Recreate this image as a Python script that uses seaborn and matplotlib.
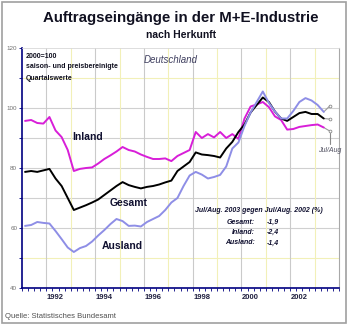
import numpy as np
import pandas as pd
import matplotlib
matplotlib.use("Agg")
import matplotlib.pyplot as plt
import seaborn as sns
from matplotlib.patches import Rectangle

sns.set_theme(style="white")
plt.rcParams['font.family'] = ['Liberation Sans', 'DejaVu Sans']

# ---- data (quarterly, 1991 Q1 .. 2003 Jul/Aug) ----
inland = [95.7, 96.0, 95.0, 94.8, 97.0, 92.5, 90.3, 86.0, 79.0, 79.7,
          80.0, 80.2, 81.5, 83.0, 84.2, 85.5, 87.0, 86.0, 85.5, 84.5,
          83.7, 83.0, 83.0, 83.2, 82.3, 84.0, 85.0, 86.0, 92.0, 90.0,
          91.3, 90.2, 92.0, 90.0, 91.3, 89.7, 96.5, 100.5, 101.2, 102.0,
          100.3, 97.2, 96.0, 92.8, 93.0, 93.7, 94.0, 94.3, 94.5, 93.5, 92.3]
gesamt = [78.7, 79.0, 78.7, 79.2, 79.7, 76.5, 74.0, 70.0, 66.0, 66.8,
          67.6, 68.5, 69.5, 71.0, 72.5, 74.0, 75.3, 74.3, 73.7, 73.2,
          73.7, 74.0, 74.5, 75.2, 75.8, 79.0, 80.5, 82.0, 85.2, 84.5,
          84.3, 84.0, 83.5, 86.5, 88.7, 92.0, 94.5, 98.5, 101.0, 103.5,
          102.0, 98.8, 96.5, 95.7, 97.0, 98.3, 98.7, 98.0, 98.0, 96.5, 96.3]
ausland = [60.7, 61.0, 62.0, 61.7, 61.5, 59.0, 56.3, 53.5, 52.0, 53.3,
           54.0, 55.5, 57.5, 59.3, 61.3, 63.0, 62.3, 60.7, 60.8, 60.5,
           62.0, 63.0, 64.0, 66.0, 68.5, 70.0, 74.0, 77.5, 78.7, 77.8,
           76.5, 77.0, 77.7, 80.5, 86.5, 88.5, 94.0, 98.5, 102.0, 105.5,
           101.7, 98.8, 96.5, 96.5, 99.0, 102.0, 103.3, 102.5, 101.0, 98.7, 100.7]
start_year = 1991
year_labels = ["1992", "1994", "1996", "1998", "2000", "2002"]
change_names = ["Gesamt:", "Inland:", "Ausland:"]
change_values = ["-1,9", "-2,4", "-1,4"]

n = len(gesamt)
q = np.arange(n)
df = pd.DataFrame({"q": np.concatenate([q, q, q]),
                   "wert": inland + gesamt + ausland,
                   "serie": ["Inland"] * n + ["Gesamt"] * n + ["Ausland"] * n})
main = df[df["q"] < n - 1]
tail = df[df["q"] >= n - 2]

W, H = 350, 327
fig = plt.figure(figsize=(W / 100, H / 100), dpi=100)
ax = fig.add_axes([22 / W, 1 - 288 / H, (339 - 22) / W, (288 - 48) / H])

colors = {"Inland": "#d81ed8", "Gesamt": "#000000", "Ausland": "#8e8ee6"}

# grid
for v in [50, 60, 70, 80, 90, 100, 110]:
    c = "#f2f0b8" if v in (50, 110) else "#d0d0d0"
    ax.axhline(v, color=c, lw=0.8, zorder=0)
n_years = 13
for k in range(1, n_years):
    yr = start_year + k
    c = "#cacaca" if yr % 2 == 0 else "#f2f0b8"
    ax.axvline(4 * k - 0.5, color=c, lw=0.8, zorder=0)

sns.lineplot(data=main, x="q", y="wert", hue="serie", palette=colors,
             linewidth=1.4, legend=False, ax=ax, zorder=3)
for s in ["Ausland", "Gesamt", "Inland"]:
    d = tail[tail["serie"] == s]
    sns.lineplot(data=d, x="q", y="wert", color="#9a9a9a", linewidth=0.8,
                 legend=False, ax=ax, zorder=2)
    last = d[d["q"] == n - 1]
    sns.scatterplot(data=last, x="q", y="wert", color="white", edgecolor="#8a8a8a",
                    s=4, linewidth=0.6, legend=False, ax=ax, zorder=4)
ax.plot([n - 1, n - 1], [inland[-1] - 0.7, inland[-1] - 4.3], color="#8a8a8a", lw=0.8)
ax.text(n - 1, inland[-1] - 6.5, "Jul/Aug", fontsize=5, style="italic",
        color="#505060", ha="center", va="center")

ax.set_xlim(-0.5, 4 * n_years - 0.5)
ax.set_ylim(40, 120)
ax.set_xlabel("")
ax.set_ylabel("")

ax.set_yticks([40, 60, 80, 100, 120])
ax.set_yticklabels(["40", "60", "80", "100", "120"])
ax.set_yticks(np.arange(40, 121, 10), minor=True)
ax.tick_params(axis="y", which="both", direction="out", length=2, width=0.6,
               colors="#000080", labelsize=4.5, labelcolor="#707070", pad=1.5, left=True)

ax.set_xticks(np.arange(-0.5, 4 * n_years, 1), minor=True)
ax.set_xticks([4 * (int(l) - start_year) + 1 for l in year_labels])
ax.set_xticklabels(year_labels, fontweight="bold", fontsize=5.5, color="#202040")
ax.tick_params(axis="x", which="major", length=0, pad=4)
ax.tick_params(axis="x", which="minor", direction="out", length=2.5, width=0.6,
               colors="#000080", bottom=True)

for side in ["left", "bottom"]:
    ax.spines[side].set_color("#000080")
    ax.spines[side].set_linewidth(1.2)
ax.spines["top"].set_color("#d8d8d8")
ax.spines["top"].set_linewidth(0.6)
ax.spines["right"].set_color("#a8a8a8")
ax.spines["right"].set_linewidth(0.8)
ax.set_facecolor("white")


def ft(x, y, s, **kw):
    fig.text(x / W, 1 - y / H, s, **kw)


ft(181, 18, "Auftragseingänge in der M+E-Industrie", ha="center", va="center",
   fontsize=10.8, fontweight="bold", color="#101020")
ft(181, 35, "nach Herkunft", ha="center", va="center", fontsize=7.5,
   fontweight="bold", color="#101020")
ft(26, 56, "2000=100", ha="left", va="center", fontsize=5, fontweight="bold", color="#101020")
ft(26, 67, "saison- und preisbereinigte", ha="left", va="center", fontsize=5,
   fontweight="bold", color="#101020")
ft(26, 78, "Quartalswerte", ha="left", va="center", fontsize=5, fontweight="bold", color="#101020")
ft(171, 60, "Deutschland", ha="center", va="center", fontsize=7, style="italic", color="#404060")
ft(88, 137, "Inland", ha="center", va="center", fontsize=7.5, fontweight="bold", color="#101030")
ft(129, 203, "Gesamt", ha="center", va="center", fontsize=7.5, fontweight="bold", color="#101030")
ft(122, 246, "Ausland", ha="center", va="center", fontsize=7.5, fontweight="bold", color="#101030")
ft(259, 211, "Jul/Aug. 2003 gegen Jul/Aug. 2002 (%)", ha="center", va="center",
   fontsize=5, style="italic", fontweight="bold", color="#101030")
for k, (nm, val) in enumerate(zip(change_names, change_values)):
    yy = 222 + 10.5 * k
    ft(255, yy, nm, ha="right", va="center", fontsize=5, style="italic",
       fontweight="bold", color="#101030")
    ft(267, yy, val, ha="left", va="center", fontsize=5, style="italic",
       fontweight="bold", color="#101030")
ft(5, 317, "Quelle: Statistisches Bundesamt", ha="left", va="center", fontsize=5.5,
   color="#505050")

fig.patches.append(Rectangle((2 / W, 4 / H), 344 / W, 321 / H, transform=fig.transFigure,
                             fill=False, edgecolor="#a0a0a0", linewidth=1.2))

fig.savefig("out.png", dpi=100)
